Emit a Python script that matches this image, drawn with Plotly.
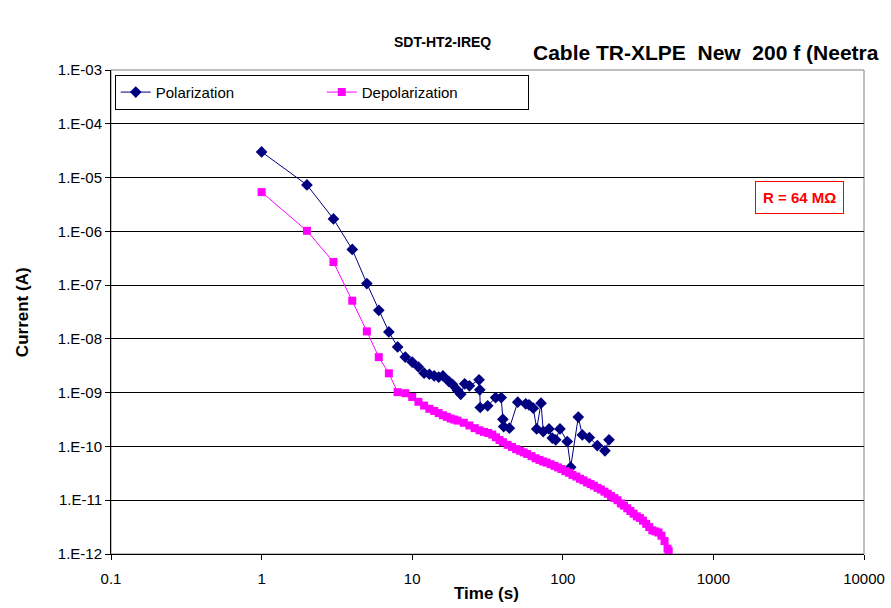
import plotly.graph_objects as go

# Polarization current (A) vs time (s)
pol_t = [1, 2, 3, 4, 5, 6, 7, 8, 9, 10, 11, 12, 13, 14, 15, 16, 17.5, 18.5, 20, 21,
         22.3, 24, 27.8, 28.1, 28.3, 31.7, 35.8, 39, 40, 40.5, 44.2, 50.2, 56.7, 59.7,
         63.7, 67.1, 71.7, 74.2, 81, 85.2, 89.7, 95.8, 107, 112.8, 126.7, 134.8, 150,
         169.5, 190.5, 202.7]
pol_i = [3.0e-5, 7.3e-6, 1.7e-6, 4.6e-7, 1.07e-7, 3.4e-8, 1.35e-8, 7.1e-9, 4.6e-9, 3.7e-9,
         3.0e-9, 2.3e-9, 2.2e-9, 2.05e-9, 1.95e-9, 2.05e-9, 1.62e-9, 1.43e-9, 1.1e-9, 9.3e-10,
         1.46e-9, 1.34e-9, 1.73e-9, 1.13e-9, 5.3e-10, 5.7e-10, 8.1e-10, 8.1e-10, 3.2e-10, 2.34e-10,
         2.19e-10, 6.65e-10, 6.19e-10, 5.93e-10, 5.15e-10, 2.12e-10, 6.38e-10, 1.89e-10, 2.12e-10,
         1.43e-10, 1.33e-10, 2.12e-10, 1.23e-10, 4.12e-11, 3.51e-10, 1.64e-10, 1.46e-10,
         1.04e-10, 8.3e-11, 1.33e-10]

# Depolarization current (A) vs time (s), read as log10 of current
dep_t = [1, 2, 3, 4, 5, 6, 7, 8, 9, 10, 11, 12, 13, 14, 15, 16, 17, 18, 19, 20,
         22, 24, 26, 28, 30, 32, 34, 36, 38, 40, 43, 46, 49, 52, 55, 58, 62, 66, 70, 74,
         78, 83, 88, 93, 98, 104, 110, 116, 123, 130, 137, 145, 153, 161, 170, 179, 189,
         199, 209, 220, 231, 243, 255, 268, 281, 295, 310, 325, 341, 358, 375, 393, 412,
         432, 452, 474, 496, 505]
dep_log_i = [-5.27, -5.99, -6.57, -7.29, -7.86, -8.34, -8.64, -8.99, -9.01, -9.08,
             -9.17, -9.24, -9.30, -9.34, -9.38, -9.42, -9.45, -9.48, -9.50, -9.52,
             -9.56, -9.61, -9.66, -9.70, -9.73, -9.75, -9.78, -9.83, -9.88, -9.92,
             -9.97, -10.01, -10.05, -10.08, -10.11, -10.14, -10.18, -10.22, -10.25, -10.28,
             -10.30, -10.33, -10.36, -10.39, -10.42, -10.46, -10.49, -10.53, -10.56, -10.60,
             -10.63, -10.67, -10.70, -10.73, -10.77, -10.80, -10.84, -10.88, -10.92, -10.96,
             -11.00, -11.06, -11.10, -11.15, -11.20, -11.25, -11.30, -11.33, -11.38, -11.44,
             -11.50, -11.56, -11.58, -11.60, -11.66, -11.76, -11.90, -11.95]
dep_i = [10 ** v for v in dep_log_i]

x_ticks = [0.1, 1, 10, 100, 1000, 10000]
x_tick_text = ["0.1", "1", "10", "100", "1000", "10000"]
y_ticks = [1e-12, 1e-11, 1e-10, 1e-9, 1e-8, 1e-7, 1e-6, 1e-5, 1e-4, 1e-3]
y_tick_text = ["1.E-12", "1.E-11", "1.E-10", "1.E-09", "1.E-08", "1.E-07",
               "1.E-06", "1.E-05", "1.E-04", "1.E-03"]

FONT = "Liberation Sans, Arial, sans-serif"

fig = go.Figure()
fig.add_trace(go.Scatter(
    x=pol_t, y=pol_i, mode="lines+markers", name="Polarization",
    line=dict(color="#000080", width=1),
    marker=dict(symbol="diamond", size=9, color="#000080"),
))
fig.add_trace(go.Scatter(
    x=dep_t, y=dep_i, mode="lines+markers", name="Depolarization",
    line=dict(color="#FF00FF", width=1),
    marker=dict(symbol="square", size=8, color="#FF00FF"),
))

fig.update_layout(
    width=891, height=608,
    margin=dict(l=111, r=27, t=70, b=54),
    paper_bgcolor="white", plot_bgcolor="white",
    font=dict(family=FONT, size=15, color="black"),
    showlegend=True,
    legend=dict(
        orientation="h", x=0.005, y=0.99, xanchor="left", yanchor="top",
        bordercolor="black", borderwidth=1, bgcolor="white",
        font=dict(family=FONT, size=15, color="black"),
        entrywidth=161, itemwidth=30,
    ),
    xaxis=dict(
        type="log", range=[-1, 4], tickvals=x_ticks, ticktext=x_tick_text,
        showgrid=False, zeroline=False, automargin=False,
        showline=True, linecolor="black", linewidth=1, mirror=False,
        ticks="outside", ticklen=5, tickcolor="black",
        ticklabelstandoff=6,
        tickfont=dict(family=FONT, size=15),
    ),
    yaxis=dict(
        type="log", range=[-12, -3], tickvals=y_ticks, ticktext=y_tick_text,
        showgrid=True, gridcolor="black", gridwidth=1, zeroline=False, automargin=False,
        showline=True, linecolor="black", linewidth=1,
        ticks="outside", ticklen=5, tickcolor="black",
        tickfont=dict(family=FONT, size=15),
    ),
    shapes=[
        dict(type="rect", xref="paper", yref="paper", x0=0, y0=0, x1=1, y1=1,
             line=dict(color="#808080", width=1), layer="below"),
    ],
    annotations=[
        dict(text="<b>SDT-HT2-IREQ</b>", xref="paper", yref="paper",
             x=0.4396, y=1.058, showarrow=False, xanchor="center", yanchor="middle",
             font=dict(family=FONT, size=14)),
        dict(text="<b>Cable TR-XLPE  New  200 f (Neetra</b>", xref="paper", yref="paper",
             x=0.5578, y=1.037, showarrow=False, xanchor="left", yanchor="middle",
             font=dict(family=FONT, size=21)),
        dict(text="<b>Current (A)</b>", xref="paper", yref="paper",
             x=-0.118, y=0.5, showarrow=False, textangle=-90,
             xanchor="center", yanchor="middle", font=dict(family=FONT, size=17)),
        dict(text="<b>Time (s)</b>", xref="paper", yref="paper",
             x=0.4993, y=-0.0826, showarrow=False,
             xanchor="center", yanchor="middle", font=dict(family=FONT, size=17)),
        dict(text="<b>R = 64 MΩ</b>", xref="paper", yref="paper",
             x=0.915, y=0.7376, showarrow=False, xanchor="center", yanchor="middle",
             font=dict(family=FONT, size=15, color="#FF0000"),
             bordercolor="#FF0000", borderwidth=1, borderpad=7, bgcolor="white"),
    ],
)

fig.write_html("out.html")
